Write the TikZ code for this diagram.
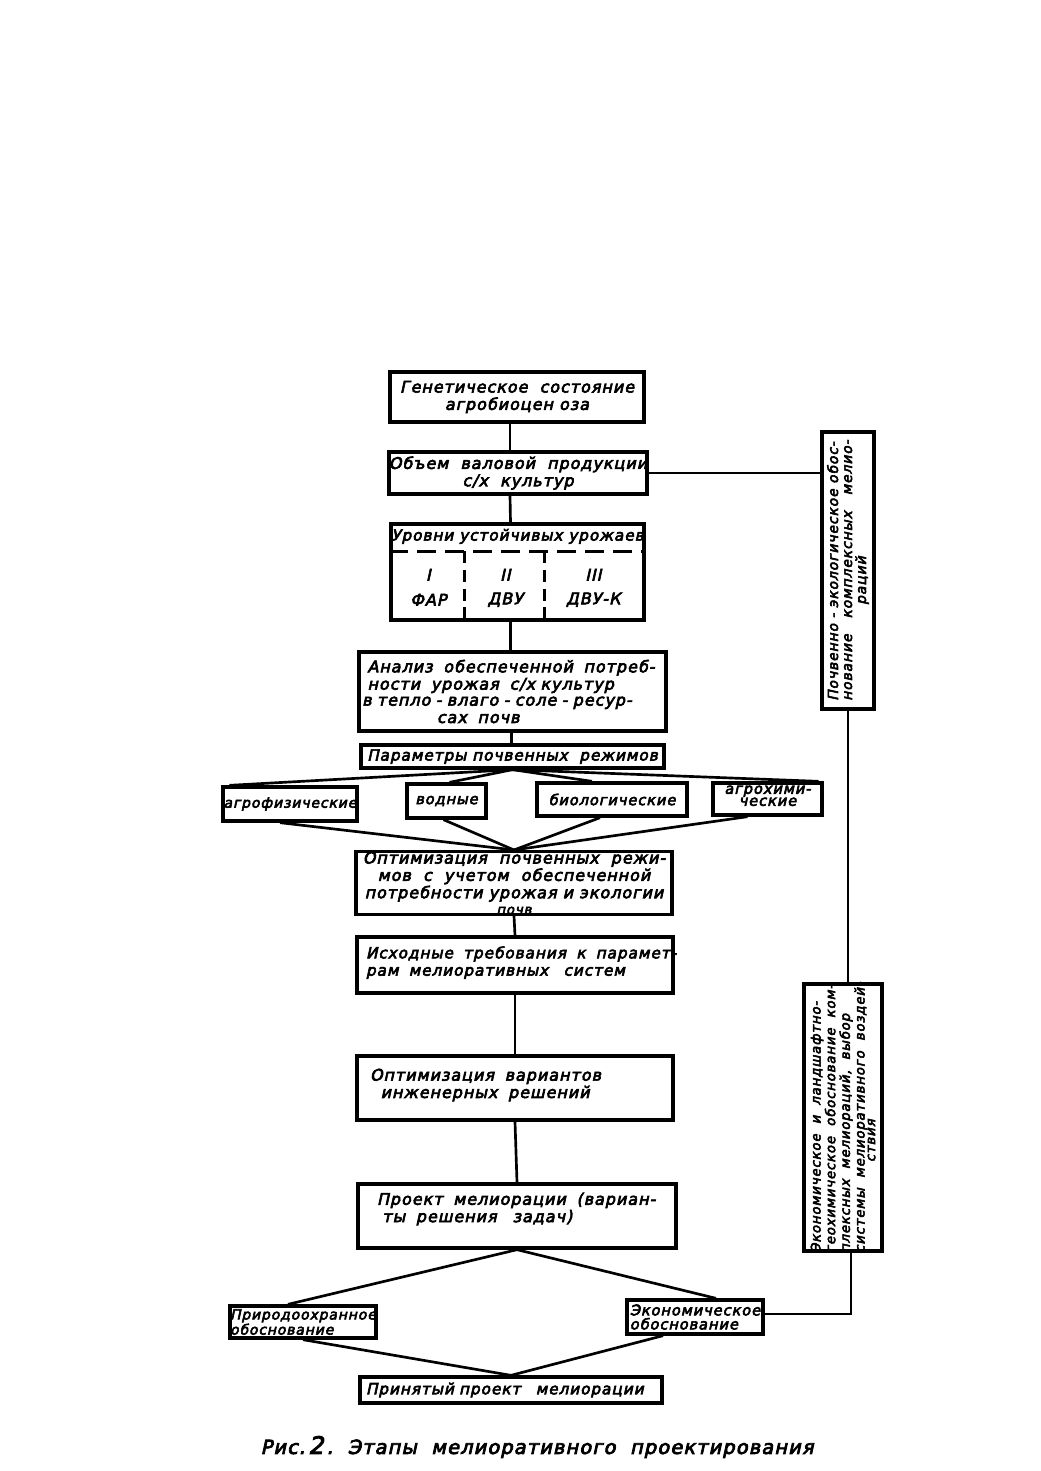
\documentclass[tikz,border=0pt]{standalone}
\usepackage{fontspec}
\usetikzlibrary{calc}
\newfontfamily\hand[FakeSlant=0.22,FakeBold=4,LetterSpace=6]{DejaVu Sans}
\newcommand\bx[7]{\node[box,minimum width={(#4-#2)*0.75pt},minimum height={(#5-#3)*0.75pt},#6] (#1) at ({(#2+#4)/2},{(#3+#5)/2}) {#7};}
\tikzset{
  box/.style={draw,line width=2.5pt,inner sep=0pt,font=\hand\fontsize{12}{13}\selectfont},
  conn/.style={line width=2pt},
  txt/.style={inner sep=0pt,font=\hand\fontsize{12}{13}\selectfont},
}
\begin{document}
\begin{tikzpicture}[x=0.75pt,y=-0.75pt]
\useasboundingbox[fill=white] (0,0) rectangle (1040,1471);
% main column
\bx{g1}{390}{372}{644}{422}{align=center}{Генетическое~~состояние\\агробиоцен~оза}
\bx{g2}{391}{452}{645}{494}{align=center}{Объем~~валовой~~продукции\\с/х~~культур}
\bx{g3}{391}{524}{644}{620}{}{}
\bx{g4}{359}{652}{666}{731}{align=left,text width=290*0.75pt}{\mbox{Анализ~~обеспеченной~~потреб-}\\\mbox{ности~~урожая~~с/х~культур}\\[-1pt]\mbox{\hspace*{-4pt}в~тепло~-~влаго~-~соле~-~ресур-}\\\mbox{\hspace*{52pt}сах~~почв}}
\bx{g5}{361}{745}{664}{768}{font=\hand\fontsize{11.5}{12}\selectfont}{Параметры~почвенных~~режимов}
\bx{p1}{223}{787}{357}{821}{font=\hand\fontsize{10.5}{12}\selectfont}{агрофизические}
\bx{p2}{407}{784}{486}{818}{font=\hand\fontsize{11}{12}\selectfont}{водные}
\bx{p3}{537}{783}{687}{816}{font=\hand\fontsize{11}{12}\selectfont}{биологические}
\bx{p4}{713}{783}{822}{815}{align=center,font=\hand\fontsize{11}{9}\selectfont}{агрохими-\\ческие\\[-4pt]\mbox{}}
\bx{g7}{356}{852}{672}{914}{align=center}{Оптимизация~~почвенных~~режи-\\мов~~с~~учетом~~обеспеченной\\потребности~урожая~и~экологии\\[-1pt]{\fontsize{10}{10}\selectfont почв}}
\bx{g8}{357}{937}{673}{993}{align=left,text width=298*0.75pt,font=\hand\fontsize{11.5}{13}\selectfont}{\mbox{Исходные~~требования~~к~~парамет-}\\\mbox{рам~~мелиоративных~~~систем}\\[-7pt]\mbox{}}
\bx{g9}{357}{1056}{673}{1120}{align=left,text width=290*0.75pt}{Оптимизация~~вариантов\\~~инженерных~~решений\\[-6pt]\mbox{}}
\bx{g10}{358}{1184}{676}{1248}{align=left,text width=280*0.75pt}{\mbox{Проект~~мелиорации~~(вариан-}\\~ты~~решения~~~задач)\\[0pt]\mbox{}}
\bx{n1}{230}{1306}{376}{1338}{align=left,font=\hand\fontsize{10.5}{10}\selectfont}{Природоохранное\\обоснование}
\bx{n2}{627}{1300}{763}{1334}{align=left,font=\hand\fontsize{11}{10.5}\selectfont}{Экономическое\\обоснование}
\bx{g13}{360}{1377}{662}{1403}{align=left,text width=290*0.75pt,font=\hand\fontsize{11.5}{12}\selectfont}{Принятый~проект~~~мелиорации}
% right column boxes
\bx{ra}{822}{432}{874}{709}{}{}
\bx{rb}{804}{984}{882}{1251}{}{}
\node[txt,rotate=90,align=left,font=\hand\fontsize{10.5}{10.5}\selectfont] (rat) at (ra.center) {Почвенно~-~экологическое~обос-\\нование~~~комплексных~~~мелио-\\\hspace*{72pt}раций};
\node[txt,rotate=90,align=left,font=\hand\fontsize{10}{11}\selectfont] (rbt) at (rb.center) {Экономическое~~и~~ландшафтно-\\геохимическое~~обоснование~~ком-\\плексных~~мелиораций,~~выбор\\системы~~мелиоративного~~воздей-\\[-3pt]\hspace*{68pt}ствия};
% yield-levels box contents
\node[txt,font=\hand\fontsize{11.5}{12}\selectfont] (g3t) at ($(g3.north)+(0,14)$) {Уровни~устойчивых~урожаев};
\draw[line width=2.5pt,dash pattern=on 14pt off 7pt] ($(g3.north west)+(0,29)$) -- ($(g3.north east)+(0,29)$);
\draw[line width=2.5pt,dash pattern=on 9pt off 5pt] ($(g3.north west)+(75,29)$) -- ($(g3.south west)+(75,0)$);
\draw[line width=2.5pt,dash pattern=on 9pt off 5pt] ($(g3.north west)+(155,29)$) -- ($(g3.south west)+(155,0)$);
\node[txt] (c1a) at ($(g3.south west)+(39,-47)$) {I};
\node[txt] (c1b) at ($(g3.south west)+(39,-22)$) {ФАР};
\node[txt] (c2a) at ($(g3.south west)+(116,-47)$) {II};
\node[txt] (c2b) at ($(g3.south west)+(116,-22)$) {ДВУ};
\node[txt] (c3a) at ($(g3.south west)+(204,-47)$) {III};
\node[txt] (c3b) at ($(g3.south west)+(204,-22)$) {ДВУ-К};
% caption
\node[txt,font=\hand\fontsize{14.5}{15}\selectfont] (cap) at (537,1447) {Рис.\,{\fontsize{18}{18}\selectfont 2}\,.~~Этапы~~мелиоративного~~проектирования};
% spine connectors
\draw[conn] ($(g1.south)+(-7,0)$) -- ($(g2.north)+(-8,0)$);
\draw[conn] ($(g2.south)+(-8,0)$) -- ($(g3.north)+(-7,0)$);
\draw[conn] ($(g3.south)+(-7,0)$) -- ($(g4.north)+(-2,0)$);
\draw[conn] ($(g4.south)+(-1,0)$) -- ($(g5.north)+(-1,0)$);
\draw[conn] (g7.south) -- (g8.north);
\draw[conn] (g8.south) -- (g9.north);
\draw[conn] (g9.south) -- (g10.north);
% fans
\draw[conn] (g5.south) -- ($(p1.north west)+(8,0)$);
\draw[conn] (g5.south) -- ($(p2.north)+(3,0)$);
\draw[conn] (g5.south) -- ($(p3.north)+(-20,0)$);
\draw[conn] (g5.south) -- ($(p4.north east)+(-5,0)$);
\draw[conn] ($(p1.south)+(-10,0)$) -- (g7.north);
\draw[conn] ($(p2.south)+(-3,0)$) -- (g7.north);
\draw[conn] ($(p3.south)+(-12,0)$) -- (g7.north);
\draw[conn] ($(p4.south)+(-20,0)$) -- (g7.north);
\draw[conn] (g10.south) -- ($(n1.north)+(-15,0)$);
\draw[conn] (g10.south) -- ($(n2.north)+(21,0)$);
\draw[conn] (n1.south) -- (g13.north);
\draw[conn] ($(n2.south)+(-32,0)$) -- (g13.north);
% right side connectors
\draw[conn] (g2.east) -- (g2.east -| ra.west);
\draw[conn] (ra.south) -- (ra.south |- rb.north);
\draw[conn] ($(g8.east)+(0,-4)$) -- ($(g8.east)+(0,-4)$ -| ra.south);
\draw[conn] ($(rb.south)+(8,0)$) |- ($(n2.east)+(0,-3)$);
\end{tikzpicture}
\end{document}
